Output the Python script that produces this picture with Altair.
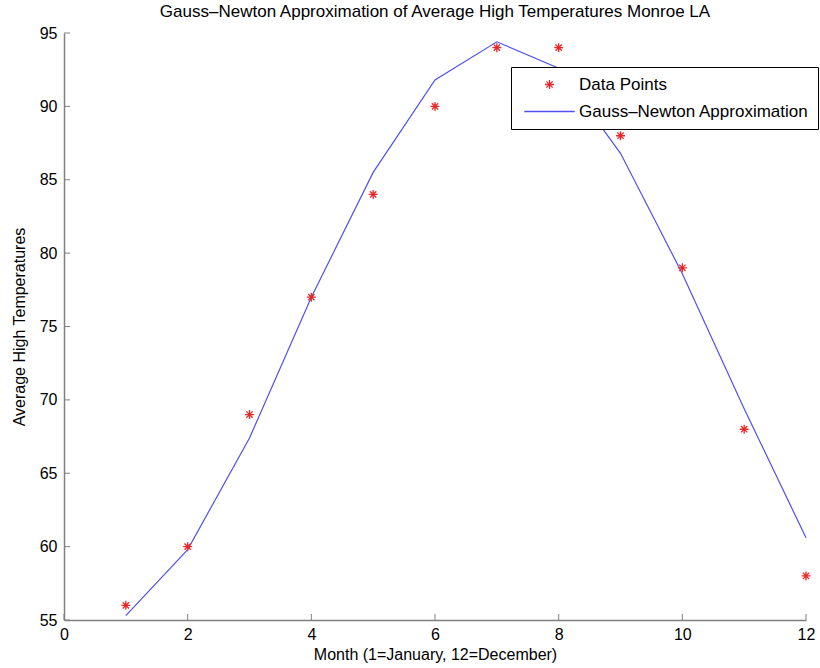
import altair as alt
import pandas as pd

months = [1, 2, 3, 4, 5, 6, 7, 8, 9, 10, 11, 12]
observed = [56, 60, 69, 77, 84, 90, 94, 94, 88, 79, 68, 58]
fitted = [55.3, 59.8, 67.4, 77.0, 85.5, 91.8, 94.4, 92.6, 86.8, 78.6, 69.4, 60.6]
x_ticks = [0, 2, 4, 6, 8, 10, 12]
y_ticks = [55, 60, 65, 70, 75, 80, 85, 90, 95]

S_DATA = "Data Points"
S_FIT = "Gauss\u2013Newton Approximation"

df = pd.DataFrame(
    {"month": months * 2,
     "temp": observed + fitted,
     "series": [S_DATA] * len(months) + [S_FIT] * len(months)}
)
xt = pd.DataFrame({"v": x_ticks})
yt = pd.DataFrame({"v": y_ticks})

FONT = "Liberation Sans"
W, H = 742, 587
ASTER = "M-1,0L1,0M0,-1L0,1M-0.7,-0.7L0.7,0.7M-0.7,0.7L0.7,-0.7"
LINE = "M-5.6,0L5.6,0"
SYM = 81

xs = alt.Scale(domain=[0, 12], nice=False, zero=False)
ys = alt.Scale(domain=[55, 95], nice=False, zero=False)
dom = [S_DATA, S_FIT]

xaxis = alt.Axis(values=x_ticks, format="d", ticks=False, labelPadding=6, labelFlush=False,
                 title="Month (1=January, 12=December)", titlePadding=4, grid=False)
yaxis = alt.Axis(values=y_ticks, format="d", ticks=False, labelPadding=7, labelFlush=False,
                 title="Average High Temperatures", titlePadding=12, grid=False)

legend = alt.Legend(title=None, orient="none", legendX=447, legendY=34,
                    strokeColor="black", fillColor="white", padding=9,
                    labelFont=FONT, labelFontSize=17, labelColor="black", labelLimit=400,
                    rowPadding=9, symbolOffset=21, labelOffset=21,
                    symbolStrokeWidth=1.3, symbolSize=SYM)

color = alt.Color("series:N", scale=alt.Scale(domain=dom, range=["#e82828", "#5050f0"]), legend=legend)
shape = alt.Shape("series:N", scale=alt.Scale(domain=dom, range=[ASTER, LINE]), legend=legend)

base = alt.Chart(df)

line = base.transform_filter(alt.datum.series == S_FIT).mark_line(strokeWidth=1.2).encode(
    x=alt.X("month:Q", scale=xs, axis=xaxis),
    y=alt.Y("temp:Q", scale=ys, axis=yaxis),
    color=color,
)

pts = base.transform_filter(alt.datum.series == S_DATA).mark_point(
    filled=False, strokeWidth=1.3, opacity=1, size=SYM
).encode(
    x=alt.X("month:Q", scale=xs, axis=xaxis),
    y=alt.Y("temp:Q", scale=ys, axis=yaxis),
    color=color,
    shape=shape,
)

xtick = alt.Chart(xt).mark_rule(color="#808080", strokeWidth=1).encode(
    x=alt.X("v:Q", scale=xs, axis=xaxis), y=alt.value(H), y2=alt.value(H - 6)
)
ytick = alt.Chart(yt).mark_rule(color="#808080", strokeWidth=1).encode(
    y=alt.Y("v:Q", scale=ys, axis=yaxis), x=alt.value(0), x2=alt.value(6)
)

chart = alt.layer(line, pts, xtick, ytick).properties(
    width=W, height=H, background="white",
    title=alt.TitleParams("Gauss\u2013Newton Approximation of Average High Temperatures Monroe LA",
                          font=FONT, fontSize=17, fontWeight="normal", color="black", offset=4, anchor="middle"),
    autosize=alt.AutoSizeParams(type="none"),
    padding={"left": 64, "top": 33, "right": 14, "bottom": 48},
).configure_view(stroke=None).configure_axis(
    domainColor="#808080", domainWidth=1.5, labelFont=FONT, labelFontSize=16, labelColor="black",
    titleFont=FONT, titleFontSize=16, titleFontWeight="normal", titleColor="black"
)

chart.save("out.html", embed_options={"renderer": "svg", "actions": False})
